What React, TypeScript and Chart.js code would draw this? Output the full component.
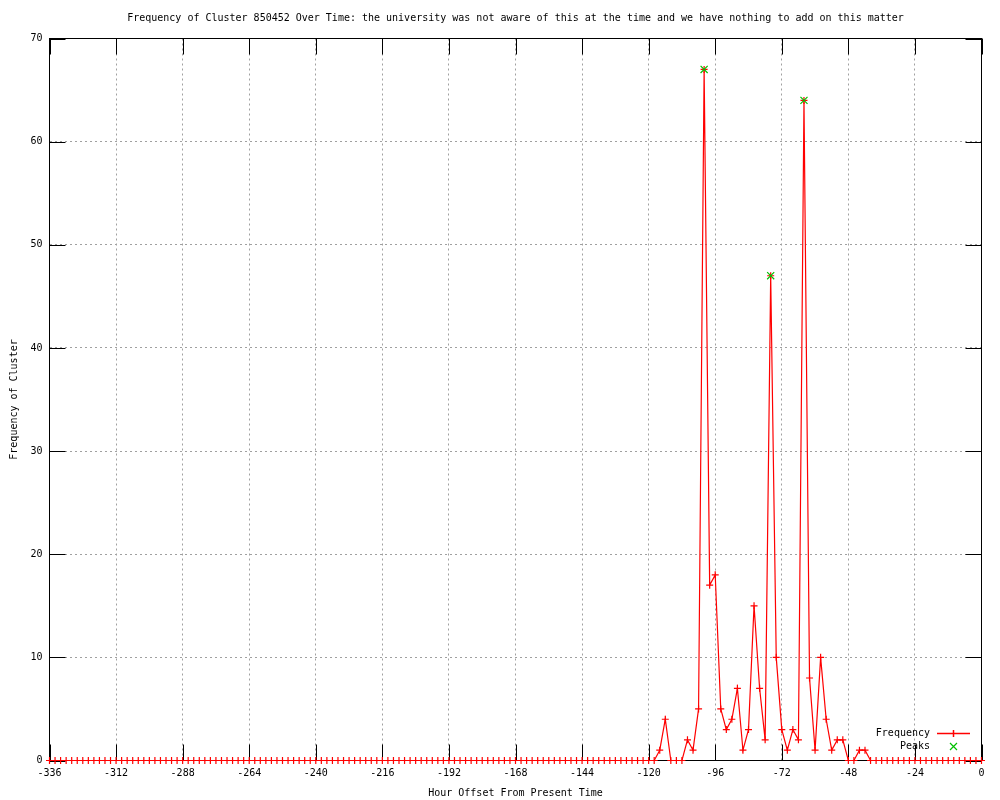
import React, { useEffect, useRef } from "react";
import { Chart, registerables } from "chart.js";

Chart.register(...registerables);

const TITLE =
  "Frequency of Cluster 850452 Over Time: the university was not aware of this at the time and we have nothing to add on this matter";
const X_TITLE = "Hour Offset From Present Time";
const Y_TITLE = "Frequency of Cluster";

// sampling grid: every 2 hours from -336 to 0
const hours: number[] = Array.from({ length: 169 }, (_, i) => -336 + i * 2);

// frequency per 2-hour bin, -336 ... 0
const frequency: number[] = [
  // -336 .. -314
  0, 0, 0, 0, 0, 0, 0, 0, 0, 0, 0, 0,
  // -312 .. -290
  0, 0, 0, 0, 0, 0, 0, 0, 0, 0, 0, 0,
  // -288 .. -266
  0, 0, 0, 0, 0, 0, 0, 0, 0, 0, 0, 0,
  // -264 .. -242
  0, 0, 0, 0, 0, 0, 0, 0, 0, 0, 0, 0,
  // -240 .. -218
  0, 0, 0, 0, 0, 0, 0, 0, 0, 0, 0, 0,
  // -216 .. -194
  0, 0, 0, 0, 0, 0, 0, 0, 0, 0, 0, 0,
  // -192 .. -170
  0, 0, 0, 0, 0, 0, 0, 0, 0, 0, 0, 0,
  // -168 .. -146
  0, 0, 0, 0, 0, 0, 0, 0, 0, 0, 0, 0,
  // -144 .. -122
  0, 0, 0, 0, 0, 0, 0, 0, 0, 0, 0, 0,
  // -120
  0,
  // -118 .. -96
  0, 1, 4, 0, 0, 0, 2, 1, 5, 67, 17, 18,
  // -94 .. -72
  5, 3, 4, 7, 1, 3, 15, 7, 2, 47, 10, 3,
  // -70 .. -48
  1, 3, 2, 64, 8, 1, 10, 4, 1, 2, 2, 0,
  // -46 .. -40
  0, 1, 1, 0,
  // -38 .. -16
  0, 0, 0, 0, 0, 0, 0, 0, 0, 0, 0, 0,
  // -14 .. 0
  0, 0, 0, 0, 0, 0, 0, 0,
];

const peakHours: number[] = [-100, -76, -64];
const peakValues: number[] = [67, 47, 64];

const xTicks = { min: -336, max: 0, step: 24 };
const yTicks = { min: 0, max: 70, step: 10 };

const FONT = "'DejaVu Sans Mono', 'Liberation Mono', monospace";
const RED = "rgb(255,0,0)";
const GREEN = "rgb(0,192,0)";

const framePlugin = {
  id: "gnuplotFrame",
  beforeDatasetsDraw(chart: any) {
    const { ctx, chartArea } = chart;
    const { left, right, top, bottom } = chartArea;
    const len = 16;
    ctx.save();
    ctx.strokeStyle = "#000";
    ctx.lineWidth = 1;
    ctx.setLineDash([]);
    const xs = chart.scales.x;
    const ys = chart.scales.y;
    ctx.beginPath();
    xs.ticks.forEach((t: any) => {
      const px = Math.round(xs.getPixelForValue(t.value)) + 0.5;
      ctx.moveTo(px, bottom);
      ctx.lineTo(px, bottom - len);
      ctx.moveTo(px, top);
      ctx.lineTo(px, top + len);
    });
    ys.ticks.forEach((t: any) => {
      const py = Math.round(ys.getPixelForValue(t.value)) + 0.5;
      ctx.moveTo(left, py);
      ctx.lineTo(left + len, py);
      ctx.moveTo(right, py);
      ctx.lineTo(right - len, py);
    });
    ctx.stroke();
    ctx.strokeRect(left, top, right - left, bottom - top);
    ctx.restore();
  },
  afterDraw(chart: any) {
    const { ctx } = chart;
    ctx.save();
    ctx.setLineDash([]);
    ctx.globalAlpha = 1;
    ctx.font = `10px ${FONT}`;
    ctx.fillStyle = "#000";
    ctx.textAlign = "right";
    ctx.textBaseline = "middle";
    const tx = 930;
    const y1 = 733;
    const y2 = 746;
    ctx.fillText("Frequency", tx, y1 + 0.5);
    ctx.fillText("Peaks", tx, y2 + 0.5);
    // Frequency sample: red line with a plus
    ctx.fillStyle = RED;
    ctx.fillRect(937, y1 - 0.25, 33, 1.5);
    ctx.fillRect(952.75, y1 - 3, 1.5, 7);
    // Peaks sample: green x
    ctx.strokeStyle = GREEN;
    ctx.lineWidth = 1.2;
    ctx.beginPath();
    ctx.moveTo(950, y2 - 3);
    ctx.lineTo(957, y2 + 4);
    ctx.moveTo(957, y2 - 3);
    ctx.lineTo(950, y2 + 4);
    ctx.stroke();
    ctx.restore();
  },
};

export default function App() {
  const ref = useRef<HTMLCanvasElement | null>(null);

  useEffect(() => {
    if (!ref.current) return;
    Chart.defaults.color = "#000";
    const freqData = hours.map((h, i) => ({ x: h, y: frequency[i] }));
    const peakData = peakHours.map((h, i) => ({ x: h, y: peakValues[i] }));
    const chart = new Chart(ref.current, {
      type: "line",
      data: {
        datasets: [
          {
            label: "Frequency",
            data: freqData,
            borderColor: RED,
            backgroundColor: RED,
            borderWidth: 1.2,
            tension: 0,
            pointStyle: "cross",
            pointRadius: 3.5,
            pointBorderWidth: 1.2,
            pointBorderColor: RED,
            pointHoverRadius: 3.5,
            clip: false as any,
            order: 1,
          },
          {
            label: "Peaks",
            data: peakData,
            showLine: false,
            borderColor: GREEN,
            backgroundColor: GREEN,
            pointStyle: "crossRot",
            pointRadius: 5,
            pointBorderWidth: 1.2,
            pointBorderColor: GREEN,
            clip: false as any,
            order: 0,
          },
        ],
      },
      options: {
        responsive: false,
        animation: false,
        events: [],
        layout: { padding: { left: 0, right: 18.5, top: 0, bottom: 0 } },
        plugins: {
          legend: { display: false },
          tooltip: { enabled: false },
          title: {
            display: true,
            text: TITLE,
            fullSize: false,
            color: "#000",
            font: { family: FONT, size: 10, weight: "normal" as any, lineHeight: 1.2 },
            padding: { top: 12, bottom: 14.5 },
          },
        },
        scales: {
          x: {
            type: "linear",
            min: xTicks.min,
            max: xTicks.max,
            grid: {
              display: true,
              color: "#a0a0a0",
              lineWidth: 1,
              drawTicks: false,
            },
            border: { display: false, dash: [2, 3] },
            ticks: {
              stepSize: xTicks.step,
              padding: 7,
              color: "#000",
              maxRotation: 0,
              autoSkip: false,
              font: { family: FONT, size: 10 },
            },
            title: {
              display: true,
              text: X_TITLE,
              color: "#000",
              font: { family: FONT, size: 10, lineHeight: 1.2 },
              padding: { top: 0, bottom: 1 },
            },
            afterFit: (s: any) => {
              s.height = 39.5;
            },
          },
          y: {
            type: "linear",
            min: yTicks.min,
            max: yTicks.max,
            grid: {
              display: true,
              color: "#a0a0a0",
              lineWidth: 1,
              drawTicks: false,
            },
            border: { display: false, dash: [2, 3] },
            ticks: {
              stepSize: yTicks.step,
              padding: 7,
              color: "#000",
              font: { family: FONT, size: 10 },
            },
            title: {
              display: true,
              text: Y_TITLE,
              color: "#000",
              font: { family: FONT, size: 10, lineHeight: 1.2 },
              padding: { top: 8, bottom: 0 },
            },
            afterFit: (s: any) => {
              s.width = 49.5;
            },
          },
        },
      },
      plugins: [framePlugin],
    });
    return () => chart.destroy();
  }, []);

  return (
    <div
      style={{
        position: "fixed",
        left: 0,
        top: 0,
        width: 1000,
        height: 800,
        background: "#fff",
      }}
    >
      <canvas ref={ref} width={1000} height={800} style={{ width: 1000, height: 800 }} />
    </div>
  );
}
